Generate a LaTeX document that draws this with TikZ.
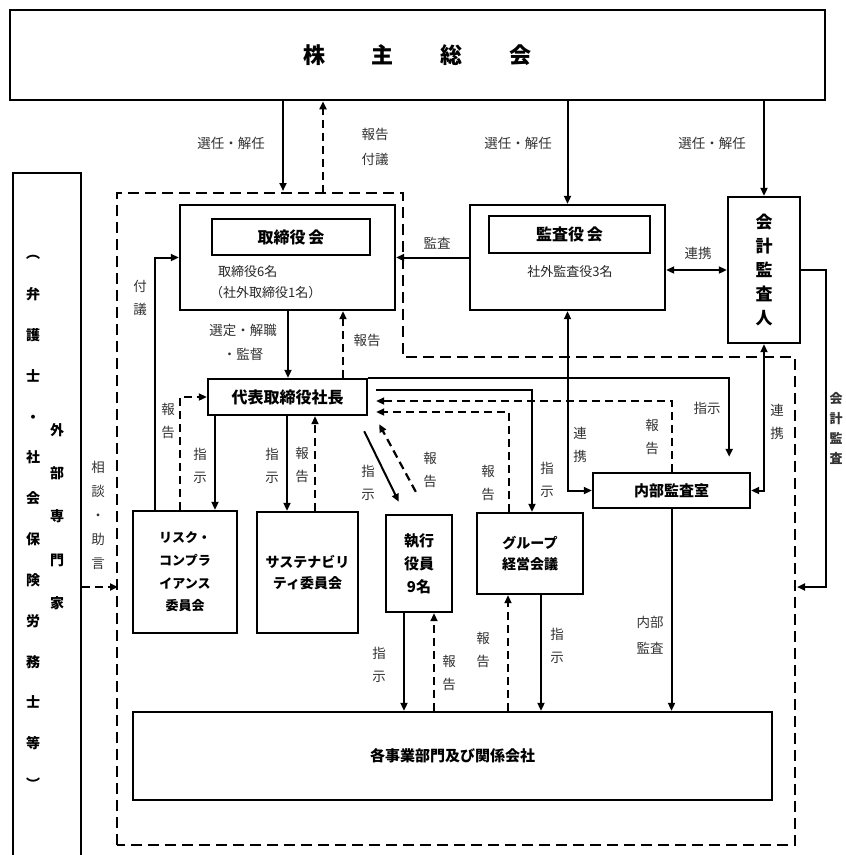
\documentclass[tikz,border=0pt]{standalone}
\usepackage{fontspec}
\setmainfont{Noto Sans CJK JP}
\usetikzlibrary{arrows.meta,calc}
\tikzset{
  box/.style={draw, line width=2.4pt, rectangle, inner sep=0pt, align=center},
  arr/.style={line width=2pt, -{Triangle[length=8pt,width=7pt]}},
  darr/.style={line width=2pt, {Triangle[length=8pt,width=7pt]}-{Triangle[length=8pt,width=7pt]}},
  dsh/.style={line width=2.2pt, dash pattern=on 8pt off 5pt, -{Triangle[length=8pt,width=7pt]}},
  region/.style={line width=2.4pt, dash pattern=on 11pt off 6pt},
  lbl/.style={font=\fontsize{13.5}{23}\selectfont, text=black!80, align=center, inner sep=0pt},
  sub/.style={font=\fontsize{13}{16}\selectfont, text=black!85, inner sep=0pt},
  bt/.style={font=\bfseries\fontsize{#1}{#1}\selectfont},
  bl/.style 2 args={font=\bfseries\fontsize{#1}{#2}\selectfont},
}
\begin{document}
\begin{tikzpicture}[x=1pt,y=-1pt]
\clip (0,0) rectangle (846,855);
\fill[white] (0,0) rectangle (846,855);

% shareholders
\node[box, line width=2.8pt, minimum width=815pt, minimum height=90pt, bt=22] (sh) at (417.5,55)
  {株\hspace{47pt}主\hspace{47pt}総\hspace{47pt}会};

% advisors box (left)
\node[box, minimum width=68pt, minimum height=720pt, anchor=north west] (adv) at (12,172) {};
\node[inner sep=0pt, align=center, bl={14}{40.85}] (advA) at (33,522.5)
  {︵\\弁\\護\\士\\・\\社\\会\\保\\険\\労\\務\\士\\等\\︶};
\node[inner sep=0pt, align=center, bl={14}{43.25}] (advB) at (57,516.5)
  {外\\部\\専\\門\\家};

% dashed company region
\draw[region] (117,845) -- (117,193) -- (403,193) -- (403,357) -- (795,357) -- (795,845) -- cycle;
\coordinate (gTop1) at (283,191);
\coordinate (gTop2) at (323,193);
\coordinate (gRight) at (797,587);
\coordinate (gLeft) at (118,587);

% board
\node[box, minimum width=215pt, minimum height=105pt] (bod) at (287.5,257.5) {};
\node[box, minimum width=158pt, minimum height=36pt, bt=16] (bodT) at (291,237) {取締役\,会};
\node[sub, anchor=west] (bodS1) at (218,272) {取締役6名};
\node[sub, anchor=west] (bodS2) at (210,293) {（社外取締役1名）};

% audit board
\node[box, minimum width=195pt, minimum height=105pt] (kan) at (567.5,257.5) {};
\node[box, minimum width=161pt, minimum height=37pt, bt=16] (kanT) at (569.5,234.5) {監査役\,会};
\node[sub] (kanS) at (570,272) {社外監査役3名};

% accounting auditor
\node[box, minimum width=72pt, minimum height=146pt, bl={17}{24}] (aud) at (764,270) {会\\計\\監\\査\\人};

% president
\node[box, minimum width=159pt, minimum height=36pt, bt=16] (ceo) at (287.5,397) {代表取締役社長};

% committees
\node[box, minimum width=104pt, minimum height=122pt, bl={13}{22.7}] (risk) at (185,572) {リスク・\\コンプラ\\イアンス\\委員会};
\node[box, minimum width=101pt, minimum height=121pt, bl={14}{21}] (sus) at (307.5,572.5) {サステナビリ\\ティ委員会};
\node[box, minimum width=66pt, minimum height=97pt, bl={15}{23}] (exe) at (419,563.5) {執行\\役員\\9名};
\node[box, minimum width=106pt, minimum height=81pt, bl={14}{21}] (grp) at (530,553.5) {グループ\\経営会議};
\node[box, minimum width=157pt, minimum height=35pt, bt=15] (ia) at (671.5,490.5) {内部監査室};
\node[box, minimum width=639pt, minimum height=88pt, bt=15] (biz) at (452.5,756) {各事業部門及び関係会社};

% connectors
\draw[arr] (sh.south -| 283,0) -- (gTop1);
\draw[dsh] (gTop2) -- (sh.south -| 323,0);
\draw[arr] (sh.south -| kan.north) -- (kan.north);
\draw[arr] (sh.south -| aud.north) -- (aud.north);
\draw[arr] (kan.west) -- (bod.east);
\draw[darr] (kan.east |- aud.west) -- (aud.west);
\draw[arr] (aud.east) -- ++(25,0) |- (gRight);

\draw[arr] (bod.south -| 288,0) -- (ceo.north -| 288,0);
\draw[dsh] (ceo.north -| 343,0) -- (bod.south -| 343,0);
\draw[arr] (risk.north -| 155,0) |- (bod.west);
\draw[dsh] (risk.north -| 180,0) |- (ceo.west);
\draw[arr] (ceo.south -| 215,0) -- (risk.north -| 215,0);
\draw[arr] (ceo.south -| 287,0) -- (sus.north -| 287,0);
\draw[dsh] (sus.north -| 315,0) -- (ceo.south -| 315,0);
\draw[arr] ([shift={(-4,15)}]ceo.south east) -- ([shift={(14,-12)}]exe.north west);
\draw[dsh] ([shift={(31,-22)}]exe.north west) -- ([shift={(11,8)}]ceo.south east);

\draw[arr] ([shift={(8,-7)}]ceo.east) -| (grp.north -| 532,0);
\draw[dsh] (grp.north -| 509,0) |- ([shift={(8,15)}]ceo.east);
\draw[dsh] (ia.north -| 672,0) |- ([shift={(8,4)}]ceo.east);
\draw[arr] (ceo.north east) -| ([shift={(-22,-15)}]ia.north east);
\draw[darr] (kan.south) |- (ia.west);
\draw[darr] (aud.south) |- (ia.east);
\draw[arr] (ia.south) -- (ia.south |- biz.north);

\draw[arr] (exe.south -| 404,0) -- (biz.north -| 404,0);
\draw[dsh] (biz.north -| 434,0) -- (exe.south -| 434,0);
\draw[dsh] (biz.north -| 508,0) -- (grp.south -| 508,0);
\draw[arr] (grp.south -| 541,0) -- (biz.north -| 541,0);
\draw[dsh] (adv.east |- gLeft) -- (gLeft);

% labels
\node[lbl] (t1) at (231,143) {選任・解任};
\node[lbl, font=\fontsize{13.5}{25}\selectfont] (t2) at (375,147) {報告\\付議};
\node[lbl] (t3) at (518,143) {選任・解任};
\node[lbl] (t4) at (712,143) {選任・解任};
\node[lbl] (t5) at (437,243) {監査};
\node[lbl] (t6) at (698,253) {連携};
\node[lbl] (t7) at (140,298) {付\\議};
\node[lbl, font=\fontsize{13.5}{24}\selectfont] (t8) at (243,342) {選定・解職\\・監督};
\node[lbl] (t9) at (367,340) {報告};
\node[lbl] (t10) at (168,421) {報\\告};
\node[lbl] (t11) at (200,466) {指\\示};
\node[lbl] (t12) at (272,466) {指\\示};
\node[lbl] (t13) at (302,465) {報\\告};
\node[lbl] (t14) at (368,483) {指\\示};
\node[lbl] (t15) at (430,470) {報\\告};
\node[lbl] (t16) at (488,483) {報\\告};
\node[lbl] (t17) at (547,480) {指\\示};
\node[lbl] (t18) at (580,445) {連\\携};
\node[lbl] (t19) at (652,437) {報\\告};
\node[lbl] (t20) at (707,408) {指示};
\node[lbl] (t21) at (777,422) {連\\携};
\node[lbl, font=\bfseries\fontsize{13}{20}\selectfont] (t22) at (836,428) {会\\計\\監\\査};
\node[lbl, font=\fontsize{13.5}{26}\selectfont] (t23) at (650,635) {内部\\監査};
\node[lbl] (t24) at (379,665) {指\\示};
\node[lbl] (t25) at (449,673) {報\\告};
\node[lbl] (t26) at (483,650) {報\\告};
\node[lbl] (t27) at (557,646) {指\\示};
\node[lbl, font=\fontsize{13.5}{24}\selectfont] (t28) at (98,515) {相\\談\\・\\助\\言};
\end{tikzpicture}
\end{document}
